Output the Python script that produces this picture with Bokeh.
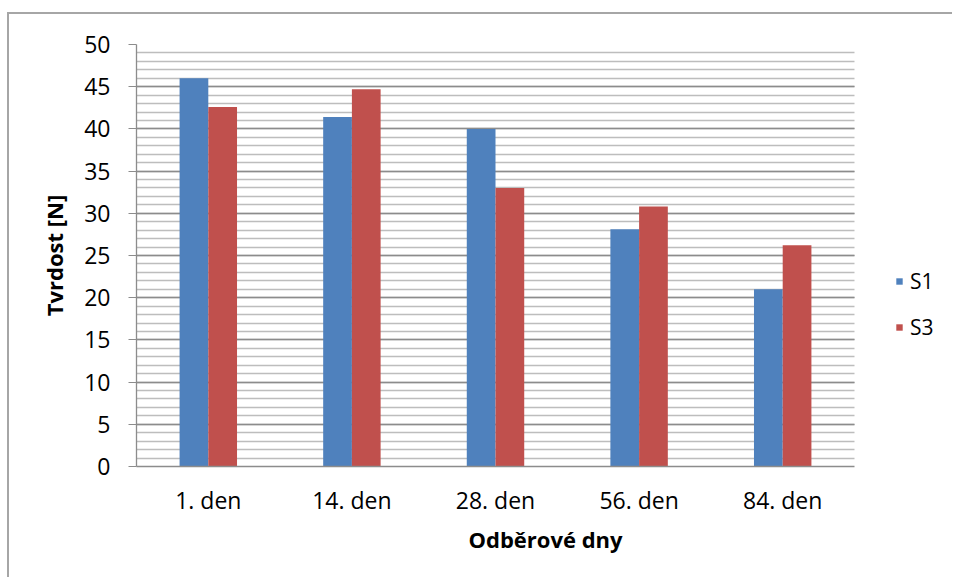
from bokeh.plotting import figure
from bokeh.models import FixedTicker, Legend, LegendItem, ColumnDataSource, Range1d
from bokeh.transform import dodge
from bokeh.embed import file_html
from bokeh.resources import INLINE

categories = ["1. den", "14. den", "28. den", "56. den", "84. den"]
s1 = [46.0, 41.4, 40.0, 28.1, 21.0]
s3 = [42.6, 44.7, 33.0, 30.8, 26.2]
y_ticks = [0, 5, 10, 15, 20, 25, 30, 35, 40, 45, 50]
y_minor = list(range(0, 51))

FONT = "Open Sans"
FS = "23px"

xpos = [i + 0.5 for i in range(len(categories))]
n = len(categories)
src = ColumnDataSource(dict(x=xpos, s1=s1, s3=s3))

# frame spans the category area plus the legend area at right
p = figure(x_range=Range1d(0, n * 818 / 718), y_range=(0, 50), width=945, height=565,
           output_backend="svg", toolbar_location=None,
           min_border_left=127, min_border_right=0, min_border_top=30, min_border_bottom=113,
           styles={"margin-top": "12px", "margin-left": "7px",
                   "border-top": "2px solid #a6a6a6",
                   "border-left": "2px solid #a6a6a6"})
p.outline_line_color = None
p.background_fill_color = "white"
p.border_fill_color = "white"

r1 = p.vbar(x=dodge("x", -0.1), top="s1", width=0.2, source=src,
            fill_color="#4f81bd", line_color=None)
r3 = p.vbar(x=dodge("x", 0.1), top="s3", width=0.2, source=src,
            fill_color="#c0504d", line_color=None)

p.yaxis.ticker = FixedTicker(ticks=y_ticks, minor_ticks=y_minor)
p.ygrid.grid_line_color = "#8c8c8c"
p.ygrid.grid_line_width = 1.3
p.ygrid.minor_grid_line_color = "#bdbdbd"
p.ygrid.minor_grid_line_width = 1.3
p.ygrid.cross_bounds = (0, n)
p.xgrid.grid_line_color = None

p.yaxis.axis_line_color = "#8c8c8c"
p.yaxis.axis_line_width = 1.3
p.yaxis.major_tick_line_color = "#8c8c8c"
p.yaxis.major_tick_out = 8
p.yaxis.major_tick_in = 0
p.yaxis.minor_tick_out = 0
p.yaxis.minor_tick_in = 0
p.yaxis.major_label_standoff = 18
p.yaxis.major_label_text_font = FONT
p.yaxis.major_label_text_font_size = FS
p.yaxis.major_label_text_color = "black"
p.yaxis.axis_label = "Tvrdost [N]"
p.yaxis.axis_label_text_font = FONT
p.yaxis.axis_label_text_font_size = "22px"
p.yaxis.axis_label_text_font_style = "bold"
p.yaxis.axis_label_text_color = "black"
p.yaxis.axis_label_standoff = 12

p.xaxis.ticker = FixedTicker(ticks=xpos)
p.xaxis.major_label_overrides = {x: c for x, c in zip(xpos, categories)}
p.xaxis.bounds = (0, n)
p.xaxis.axis_line_color = "#8c8c8c"
p.xaxis.axis_line_width = 1.3
p.xaxis.major_tick_line_color = None
p.xaxis.minor_tick_line_color = None
p.xaxis.major_tick_out = 0
p.xaxis.major_tick_in = 0
p.xaxis.major_label_standoff = 17
p.xaxis.major_label_text_font = FONT
p.xaxis.major_label_text_font_size = FS
p.xaxis.major_label_text_color = "black"
p.xaxis.axis_label = "Odběrové dny"
p.xaxis.axis_label_text_font = FONT
p.xaxis.axis_label_text_font_size = "22px"
p.xaxis.axis_label_text_font_style = "bold"
p.xaxis.axis_label_text_color = "black"
p.xaxis.axis_label_standoff = 5

legend = Legend(items=[LegendItem(label="S1", renderers=[r1]),
                       LegendItem(label="S3", renderers=[r3])],
                location=(759, 125))
legend.border_line_color = None
legend.background_fill_alpha = 0
legend.padding = 0
legend.margin = 0
legend.glyph_width = 8
legend.glyph_height = 8
legend.label_standoff = 7
legend.label_height = 20
legend.spacing = 18
legend.label_text_font = FONT
legend.label_text_font_size = "21px"
legend.label_text_color = "black"
p.add_layout(legend, "center")

open("out.html", "w").write(file_html(p, INLINE))
